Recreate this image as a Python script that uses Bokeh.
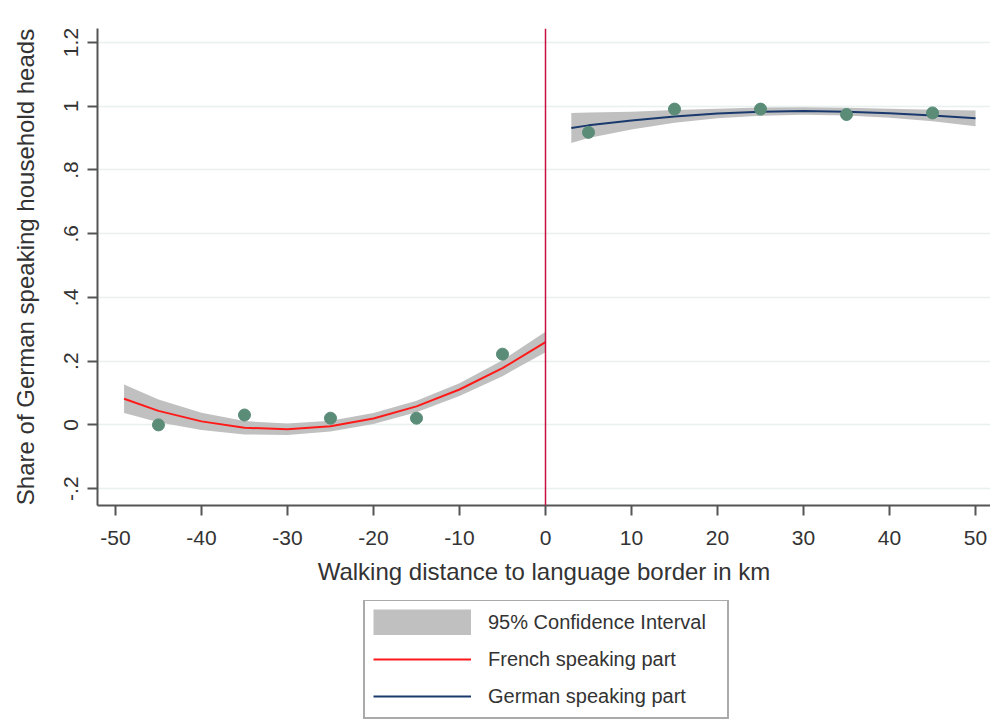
from bokeh.plotting import figure
from bokeh.layouts import column
from bokeh.models import (Range1d, FixedTicker, Span, Legend, LegendItem)
from bokeh.embed import file_html
from bokeh.resources import INLINE

# Binned means (points)
fr_bin_x = [-45, -35, -25, -15, -5]
fr_bin_y = [0.000, 0.031, 0.021, 0.021, 0.222]
de_bin_x = [5, 15, 25, 35, 45]
de_bin_y = [0.918, 0.991, 0.991, 0.974, 0.979]

# Fitted quadratic and CI half widths
fr_fit_x = [-49, -45, -40, -35, -30, -25, -20, -15, -10, -5, 0]
fr_fit_y = [0.082, 0.044, 0.011, -0.009, -0.014, -0.004, 0.020, 0.058, 0.111, 0.178, 0.260]
fr_ci_hw = [0.045, 0.036, 0.027, 0.021, 0.018, 0.017, 0.017, 0.018, 0.020, 0.025, 0.032]

de_fit_x = [3, 5, 10, 15, 20, 25, 30, 35, 40, 45, 50]
de_fit_y = [0.932, 0.940, 0.955, 0.968, 0.977, 0.983, 0.985, 0.983, 0.978, 0.971, 0.962]
de_ci_hw = [0.047, 0.040, 0.028, 0.020, 0.015, 0.013, 0.012, 0.012, 0.014, 0.018, 0.025]

x_ticks = [-50, -40, -30, -20, -10, 0, 10, 20, 30, 40, 50]
x_tick_labels = ["-50", "-40", "-30", "-20", "-10", "0", "10", "20", "30", "40", "50"]
y_ticks = [-0.2, 0.0, 0.2, 0.4, 0.6, 0.8, 1.0, 1.2]
y_tick_labels = ["-.2", "0", ".2", ".4", ".6", ".8", "1", "1.2"]

legend_labels = ["95% Confidence Interval", "French speaking part", "German speaking part"]

FONT = "Liberation Sans"
AXIS_COLOR = "#555555"
BAND_COLOR = "#c0c0c0"
FR_COLOR = "#ff1a1a"
DE_COLOR = "#1a3a6e"
PT_COLOR = "#5a8c78"

fr_lo = [y - h for y, h in zip(fr_fit_y, fr_ci_hw)]
fr_hi = [y + h for y, h in zip(fr_fit_y, fr_ci_hw)]
de_lo = [y - h for y, h in zip(de_fit_y, de_ci_hw)]
de_hi = [y + h for y, h in zip(de_fit_y, de_ci_hw)]

p = figure(width=990, height=600, output_backend="svg", toolbar_location=None,
           x_range=Range1d(-52.09, 51.74), y_range=Range1d(-0.253, 1.244),
           min_border_left=97, min_border_top=28, min_border_right=0,
           min_border_bottom=95)
p.outline_line_color = None
p.background_fill_color = "white"
p.border_fill_color = "white"

# grid
p.xgrid.visible = False
p.ygrid.ticker = FixedTicker(ticks=y_ticks)
p.ygrid.grid_line_color = "#e8f0f0"
p.ygrid.grid_line_width = 1.5

# axes
p.xaxis.ticker = FixedTicker(ticks=x_ticks)
p.xaxis.major_label_overrides = {t: l for t, l in zip(x_ticks, x_tick_labels)}
p.yaxis.ticker = FixedTicker(ticks=y_ticks)
p.yaxis.major_label_overrides = {t: l for t, l in zip(y_ticks, y_tick_labels)}
p.yaxis.major_label_orientation = "vertical"
for ax in (p.xaxis[0], p.yaxis[0]):
    ax.axis_line_color = AXIS_COLOR
    ax.axis_line_width = 2
    ax.major_tick_line_color = AXIS_COLOR
    ax.major_tick_line_width = 2
    ax.major_tick_in = 0
    ax.major_tick_out = 10
    ax.minor_tick_line_color = None
    ax.major_label_text_font = FONT
    ax.major_label_text_font_size = "21px"
    ax.major_label_text_color = "#333333"
    ax.axis_label_text_font = FONT
    ax.axis_label_text_font_size = "24px"
    ax.axis_label_text_font_style = "normal"
    ax.axis_label_text_color = "#333333"
p.xaxis.axis_label = "Walking distance to language border in km"
p.yaxis.axis_label = "Share of German speaking household heads"
p.xaxis.major_label_standoff = 15
p.xaxis.axis_label_standoff = 10
p.yaxis.major_label_standoff = 9
p.yaxis.axis_label_standoff = 23

# CI bands
p.varea(x=fr_fit_x, y1=fr_lo, y2=fr_hi, fill_color=BAND_COLOR)
p.varea(x=de_fit_x, y1=de_lo, y2=de_hi, fill_color=BAND_COLOR)

# fitted lines
p.line(fr_fit_x, fr_fit_y, line_color=FR_COLOR, line_width=2)
p.line(de_fit_x, de_fit_y, line_color=DE_COLOR, line_width=2)

# binned points
p.scatter(fr_bin_x, fr_bin_y, size=12, fill_color=PT_COLOR, line_color=PT_COLOR)
p.scatter(de_bin_x, de_bin_y, size=12, fill_color=PT_COLOR, line_color=PT_COLOR)

# border line
p.add_layout(Span(location=0, dimension="height", line_color="#c8103e", line_width=1.5))

# ---- legend figure (its renderers lie outside its visible ranges) ----
lf = figure(width=990, height=122, output_backend="svg", toolbar_location=None,
            x_range=Range1d(1000, 1001), y_range=Range1d(1000, 1001),
            min_border_left=97, min_border_right=0, min_border_top=0, min_border_bottom=0)
lf.axis.visible = False
lf.grid.visible = False
lf.outline_line_color = None
lf.border_fill_color = "white"
# the CI swatch is drawn as a thick grey line so that it fills the whole glyph box
lg_band = lf.line(fr_fit_x, fr_lo, line_color=BAND_COLOR, line_width=26)
lg_fr = lf.line(fr_fit_x, fr_fit_y, line_color=FR_COLOR, line_width=2)
lg_de = lf.line(de_fit_x, de_fit_y, line_color=DE_COLOR, line_width=2)

legend = Legend(items=[
    LegendItem(label=legend_labels[0], renderers=[lg_band]),
    LegendItem(label=legend_labels[1], renderers=[lg_fr]),
    LegendItem(label=legend_labels[2], renderers=[lg_de]),
], location=(266, 3), orientation="vertical")
legend.label_text_font = FONT
legend.label_text_font_size = "20px"
legend.label_text_color = "#333333"
legend.glyph_width = 98
legend.glyph_height = 26
legend.label_height = 26
legend.label_width = 231
legend.label_standoff = 17
legend.spacing = 11
legend.padding = 8
legend.margin = 0
legend.border_line_color = "#555555"
legend.border_line_width = 2
legend.background_fill_color = "white"
lf.add_layout(legend, "center")

layout = column(p, lf, spacing=0)
open("out.html", "w").write(file_html(layout, INLINE))
